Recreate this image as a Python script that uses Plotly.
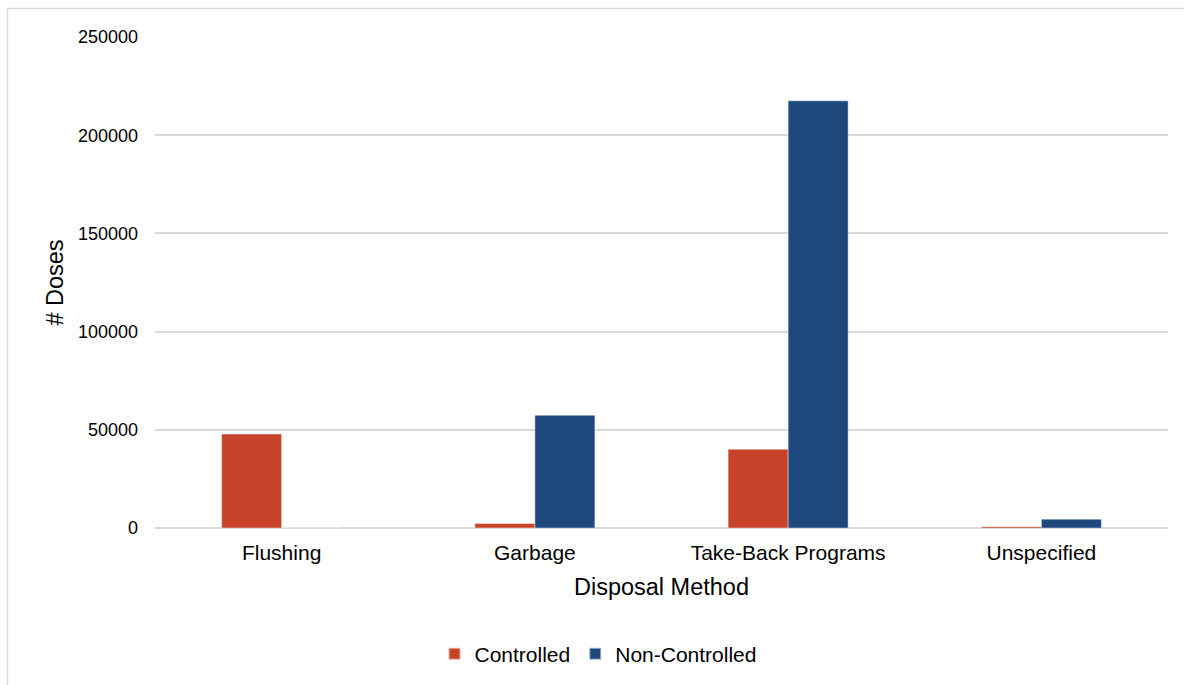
import plotly.graph_objects as go

categories = ["Flushing", "Garbage", "Take-Back Programs", "Unspecified"]
controlled = [47800, 2300, 40100, 700]
non_controlled = [0, 57400, 217500, 4500]
y_ticks = [0, 50000, 100000, 150000, 200000, 250000]

RED = "#C9432B"
BLUE = "#1F497D"
GRID = "#D9D9D9"
FONT = "Liberation Sans, Arial, sans-serif"

fig = go.Figure()
fig.add_trace(go.Bar(name="Controlled", x=categories, y=controlled,
                     marker=dict(color=RED, line=dict(color="rgba(255,255,255,0.6)", width=0.7))))
fig.add_trace(go.Bar(name="Non-Controlled", x=categories, y=non_controlled,
                     marker=dict(color=BLUE, line=dict(color="rgba(255,255,255,0.6)", width=0.7))))

W, H = 1184, 685
L, R, T, B = 155, 16, 37, 156
pw, ph = W - L - R, H - T - B

fig.update_layout(
    width=W, height=H,
    margin=dict(l=L, r=R, t=T, b=B, pad=0),
    paper_bgcolor="white", plot_bgcolor="white",
    font=dict(family=FONT, color="#000000"),
    barmode="group", bargap=0.526, bargroupgap=0,
    showlegend=True,
    legend=dict(orientation="h", x=(598 - L) / pw, xanchor="center",
                y=-(654 - (T + ph)) / ph, yanchor="middle",
                font=dict(size=21, family=FONT), itemsizing="constant",
                traceorder="normal"),
    xaxis=dict(title=dict(text="Disposal Method", font=dict(size=23.5, family=FONT), standoff=15),
               tickfont=dict(size=21, family=FONT), showgrid=False, showline=False,
               ticks="", zeroline=False, ticklabelstandoff=10),
    yaxis=dict(title=dict(text="# Doses", font=dict(size=23.5, family=FONT), standoff=7),
               tickfont=dict(size=18, family=FONT), range=[0, 250000],
               tickvals=y_ticks, ticktext=[str(v) for v in y_ticks],
               showgrid=True, gridcolor=GRID, gridwidth=1.5,
               zeroline=True, zerolinecolor=GRID, zerolinewidth=1.5,
               showline=False, ticks="", ticklabelstandoff=16),
    shapes=[dict(type="rect", xref="paper", yref="paper",
                 x0=(7.5 - L) / pw, x1=(W + 40 - L) / pw,
                 y0=-(H + 40 - T - ph) / ph, y1=1 + (T - 8.5) / ph,
                 line=dict(color=GRID, width=1.5), fillcolor="rgba(0,0,0,0)", layer="below")],
)

fig.write_html("out.html")
